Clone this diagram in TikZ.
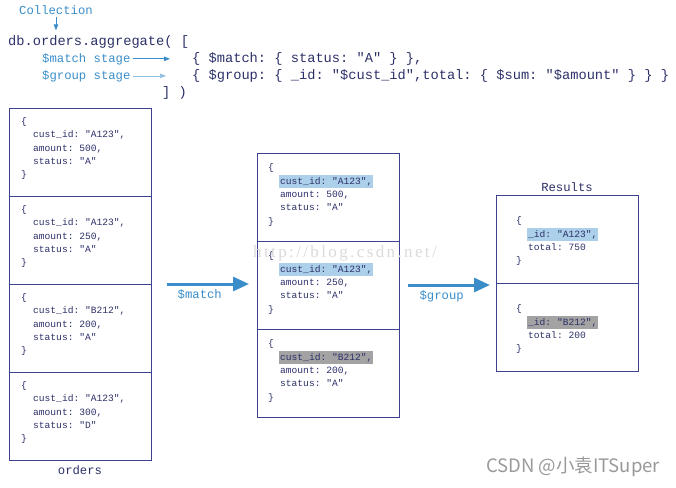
\documentclass[tikz,border=0pt]{standalone}
\usepackage{fontspec}
\setmainfont{Liberation Sans}
\setmonofont{Liberation Mono}
\newfontfamily\cjkfont{Noto Sans CJK SC}
\newfontfamily\wmfont[LetterSpace=14]{Liberation Serif}
\usetikzlibrary{arrows.meta,positioning,calc}
\definecolor{ink}{HTML}{2C3068}
\definecolor{boxline}{HTML}{3D4190}
\definecolor{mdbBlue}{HTML}{3A8DC9}
\definecolor{hlBlue}{HTML}{ADD0EA}
\definecolor{hlGray}{HTML}{A3A3A3}
\definecolor{wmGray}{HTML}{DADADA}
\newcommand{\docind}{\hspace*{12pt}}
\newcommand{\hlbox}[2]{\hspace*{-1pt}{\setlength{\fboxsep}{0pt}\colorbox{#1}{\strut\hspace{1pt}#2\hspace{1pt}}}}

\begin{document}
\begin{tikzpicture}[x=1pt,y=-1pt,
  frame/.style={draw=boxline,line width=0.9pt,minimum width=142pt,minimum height=88pt,inner sep=0pt,outer sep=0pt},
  doc/.style={anchor=north west,align=left,inner sep=0pt,text=ink,font=\fontsize{9.6}{13.3}\selectfont\ttfamily},
  code/.style={anchor=base west,inner sep=0pt,text=ink,font=\fontsize{13.7}{17}\selectfont\ttfamily},
  tag/.style={anchor=base west,inner sep=0pt,text=mdbBlue,font=\fontsize{12.25}{15}\selectfont\ttfamily},
  title/.style={inner sep=0pt,text=ink,font=\fontsize{12.25}{15}\selectfont\ttfamily},
  lbl/.style={inner sep=0pt,text=mdbBlue,font=\fontsize{12.25}{15}\selectfont\ttfamily},
  pointer/.style={-{Triangle[length=6pt,width=4.5pt]},draw=mdbBlue,line width=0.9pt},
  faint/.style={-{Triangle[length=6pt,width=4.5pt]},draw=mdbBlue!55,line width=0.4pt},
  bigarrow/.style={-{Triangle[length=16pt,width=14pt]},draw=mdbBlue,line width=3pt}]
  \path[use as bounding box] (0,0) rectangle (676,487);
  % pipeline text
  \node[tag] (coll) at (19,15) {Collection};
  \node[code] (agg) at (8,45.5) {db.orders.aggregate( [};
  \node[tag] (mstage) at (42,62) {\$match stage};
  \node[tag] (gstage) at (42,79) {\$group stage};
  \node[code] (mcode) at (192,62) {\{ \$match: \{ status: "A" \} \},};
  \node[code] (gcode) at (192,79) {\{ \$group: \{ \_id: "\$cust\_id",total: \{ \$sum: "\$amount" \} \} \}};
  \node[code] (close) at (162,96) {] )};
  \draw[pointer,shorten <=2pt,shorten >=5pt] (coll.south) -- (coll.south |- agg.north);
  \draw[pointer,shorten <=2pt,shorten >=22pt] (mstage.east) -- (mstage.east -| mcode.west);
  \draw[faint,shorten <=2pt,shorten >=26pt] (gstage.east) -- (gstage.east -| gcode.west);
  % orders collection
  \node[frame,anchor=north west] (o1) at (9,108) {};
  \node[frame,below=0pt of o1] (o2) {};
  \node[frame,below=0pt of o2] (o3) {};
  \node[frame,below=0pt of o3] (o4) {};
  \foreach \n/\id/\amt/\st in {1/A123/500/A,2/A123/250/A,3/B212/200/A,4/A123/300/D}
    \node[doc] (d\n) at ([shift={(12,7)}]o\n.north west)
      {\strut\{\\\docind cust\_id: "\id",\\\docind amount: \amt,\\\docind status: "\st"\\\}};
  \node[title,below=5pt of o4] (orders) {orders};
  % after $match
  \node[frame,anchor=north west] (m1) at (257,153) {};
  \node[frame,below=0pt of m1] (m2) {};
  \node[frame,below=0pt of m2] (m3) {};
  \foreach \n/\id/\amt/\hl in {1/A123/500/hlBlue,2/A123/250/hlBlue,3/B212/200/hlGray}
    \node[doc] (e\n) at ([shift={(11,8.4)}]m\n.north west)
      {\strut\{\\\docind\hlbox{\hl}{cust\_id: "\id",}\\\docind amount: \amt,\\\docind status: "A"\\\}};
  % results
  \node[frame,anchor=north west] (r1) at (496,195) {};
  \node[frame,below=0pt of r1] (r2) {};
  \foreach \n/\id/\tot/\hl in {1/A123/750/hlBlue,2/B212/200/hlGray}
    \node[doc] (f\n) at ([shift={(20,19.4)}]r\n.north west)
      {\strut\{\\\docind\hlbox{\hl}{\_id: "\id",}\\\docind total: \tot\\\}};
  \node[title,above=3pt of r1] (results) {Results};
  % stages
  \draw[bigarrow,shorten <=16pt,shorten >=8pt] (o2.south east) -- (o2.south east -| m2.west)
    node[lbl,pos=0.46,below=4pt] (mlbl) {\$match};
  \draw[bigarrow,shorten <=9pt,shorten >=6pt] (m2.east) -- (m2.east -| r1.west)
    node[lbl,pos=0.44,below=4pt] (glbl) {\$group};
  % watermarks
  \node[inner sep=0pt,text=wmGray,font=\wmfont\fontsize{17}{20}\selectfont] (wm1) at (345,253) {http://blog.csdn.net/};
  \node[inner sep=0pt,text=black!40,font=\cjkfont\fontsize{18.5}{21}\selectfont] (wm2) at (573,467) {CSDN @小袁ITSuper};
\end{tikzpicture}
\end{document}
